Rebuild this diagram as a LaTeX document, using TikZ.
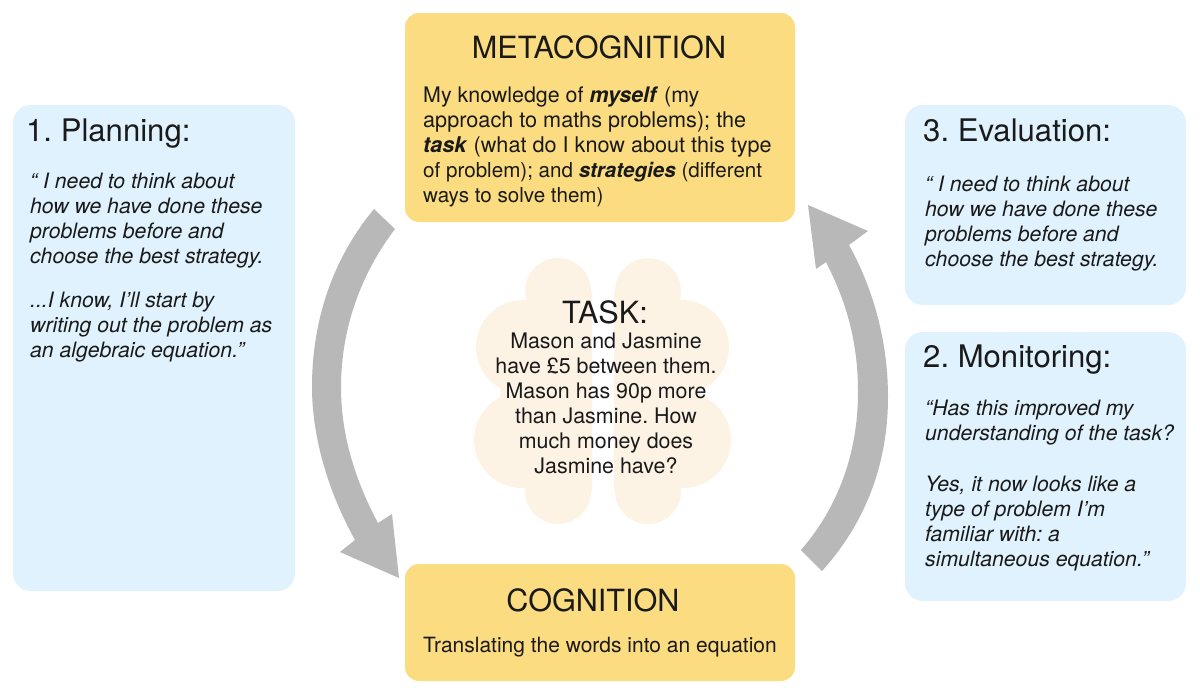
\documentclass[tikz,border=0pt]{standalone}
\usepackage{fontspec}
\setmainfont{TeX Gyre Heros}
\definecolor{boxyellow}{HTML}{FBDC80}
\definecolor{boxblue}{HTML}{E0F2FD}
\definecolor{brainc}{HTML}{FDF3E4}
\definecolor{arrowgrey}{HTML}{B8B8B8}
\definecolor{inkc}{HTML}{1A1A1A}
\tikzset{
  x=1pt,y=-1pt,
  yellowbox/.style={fill=boxyellow,rounded corners=14pt,draw=none},
  bluebox/.style={fill=boxblue,rounded corners=18pt,draw=none},
  greyarrow/.style={fill=arrowgrey,draw=none},
  title/.style={font=\fontsize{30.6}{34}\selectfont\frenchspacing,text=inkc,inner sep=0pt,anchor=base},
  stitle/.style={font=\fontsize{31.1}{34}\selectfont\frenchspacing,text=inkc,inner sep=0pt,anchor=base west},
  body/.style={font=\fontsize{21.65}{24.8}\selectfont\frenchspacing,text=inkc,inner sep=0pt,align=left,anchor=base west},
  quote/.style={font=\fontsize{21.2}{25}\selectfont\itshape\frenchspacing,text=inkc,inner sep=0pt,align=left,anchor=base west},
  centred/.style={font=\fontsize{21.4}{25}\selectfont\frenchspacing,text=inkc,inner sep=0pt,align=center,anchor=base},
}
\newcommand{\bi}[1]{\textbf{\textit{#1}}}
\newcommand{\smallline}{\fontsize{20.6}{24.8}\selectfont}
\newcommand{\firstline}{\fontsize{21.4}{24.8}\selectfont}
\begin{document}
\begin{tikzpicture}
\useasboundingbox (0,0) rectangle (1200,694);
\fill[white] (0,0) rectangle (1200,694);
% boxes
\fill[yellowbox] (405,13) rectangle (795,222);
\fill[yellowbox] (405,564) rectangle (795,681);
\fill[bluebox] (13,105) rectangle (295,591);
\fill[bluebox] (905,105) rectangle (1186,305);
\fill[bluebox] (905,332) rectangle (1186,601);
% brain
\begin{scope}
\clip (450,240) rectangle (592,540);
\fill[brainc] (558,291) circle (33) (523,347) circle (47) (522,440) circle (48) (558,491) circle (33);
\fill[brainc] (540,291) rectangle (592,491) (500,320) rectangle (592,470);
\end{scope}
\begin{scope}
\clip (614,240) rectangle (750,540);
\fill[brainc] (648,291) circle (33) (682,347) circle (47) (683,440) circle (48) (648,491) circle (33);
\fill[brainc] (614,291) rectangle (666,491) (614,320) rectangle (700,470);
\end{scope}
% arrows
\fill[greyarrow] (374,209) .. controls (330,262) and (312,325) .. (312,387)
  .. controls (312,440) and (330,495) .. (355,540) -- (340,552) -- (399,578) -- (392,514) -- (378,523)
  .. controls (355,480) and (341,435) .. (341,387)
  .. controls (341,330) and (360,275) .. (395,229) -- cycle;
\fill[greyarrow] (801,550) .. controls (840,505) and (858,450) .. (858,392)
  .. controls (858,345) and (848,305) .. (826,262) -- (816,269) -- (808,205) -- (868,231) -- (849,245)
  .. controls (875,292) and (888,345) .. (888,397)
  .. controls (888,460) and (868,520) .. (822,571) -- cycle;
% text
\node[title] (metat) at (599,58) {METACOGNITION};
\node[body] (metab) at (423,202) {\firstline My knowledge of \bi{myself} (my\\approach to maths problems); the\\\bi{task} (what do I know about this type\\\smallline of problem); and \bi{strategies} (different\\\smallline ways to solve them)};
\node[title] (cogt) at (593,611) {COGNITION};
\node[body,font=\fontsize{21}{24.8}\selectfont] (cogb) at (423,652) {Translating the words into an equation};
\node[title] (taskt) at (605,323) {TASK:};
\node[centred] (taskb) at (606,473) {Mason and Jasmine\\have £5 between them.\\Mason has 90p more\\than Jasmine. How\\much money does\\Jasmine have?};
\node[stitle] (plant) at (26,141) {1. Planning:};
\node[quote] (planb) at (30,357) {“ I need to think about\\how we have done these\\problems before and\\choose the best strategy.\\[19pt]...I know, I’ll start by\\writing out the problem as\\an algebraic equation.”};
\node[stitle] (evalt) at (923,141) {3. Evaluation:};
\node[quote] (evalb) at (925,266) {“ I need to think about\\how we have done these\\problems before and\\choose the best strategy.};
\node[stitle] (mont) at (923,367) {2. Monitoring:};
\node[quote] (monb) at (925,566) {“Has this improved my\\understanding of the task?\\[26pt]Yes, it now looks like a\\type of problem I’m\\familiar with: a\\simultaneous equation.”};
\end{tikzpicture}
\end{document}
